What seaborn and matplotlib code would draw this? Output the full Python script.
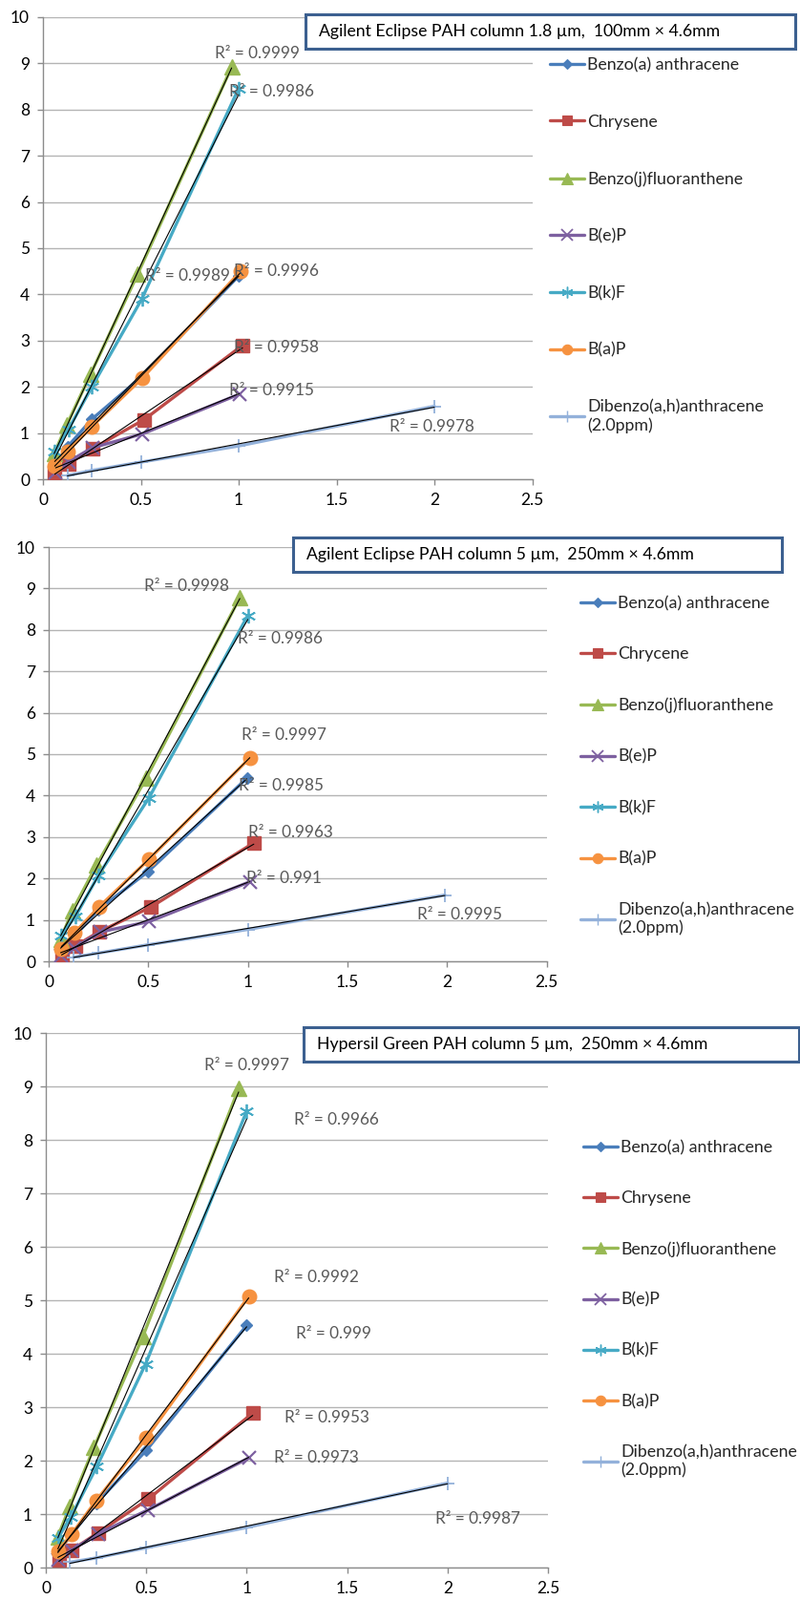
import numpy as np
import matplotlib
matplotlib.use("Agg")
import matplotlib.pyplot as plt
from matplotlib.patches import Rectangle
from matplotlib.lines import Line2D
import seaborn as sns

sns.set_theme(style="white")
plt.rcParams['font.family'] = ['Lato', 'DejaVu Sans']

# ---------------- data ----------------
compounds = ["Benzo(a) anthracene", "Chrysene", "Benzo(j)fluoranthene", "B(e)P",
             "B(k)F", "B(a)P", "Dibenzo(a,h)anthracene\n(2.0ppm)"]
compounds_p2 = ["Benzo(a) anthracene", "Chrycene", "Benzo(j)fluoranthene", "B(e)P",
                "B(k)F", "B(a)P", "Dibenzo(a,h)anthracene\n(2.0ppm)"]

titles = ["Agilent Eclipse PAH column 1.8 \u00b5m,  100mm \u00d7 4.6mm",
          "Agilent Eclipse PAH column 5 \u00b5m,  250mm \u00d7 4.6mm",
          "Hypersil Green PAH column 5 \u00b5m,  250mm \u00d7 4.6mm"]

xtick_values = [0, 0.5, 1, 1.5, 2, 2.5]
xtick_labels = ["0", "0.5", "1", "1.5", "2", "2.5"]
ytick_values = [0, 1, 2, 3, 4, 5, 6, 7, 8, 9, 10]

# Panel 1 (1.8 um, 100mm)
p1_x = [
    [0.06, 0.125, 0.25, 0.50, 1.00],
    [0.06, 0.13, 0.252, 0.517, 1.02],
    [0.057, 0.122, 0.244, 0.485, 0.964],
    [0.065, 0.13, 0.252, 0.507, 1.003],
    [0.06, 0.13, 0.25, 0.505, 1.0],
    [0.06, 0.125, 0.25, 0.508, 1.01],
    [0.125, 0.25, 0.5, 1.0, 2.0],
]
p1_y = [
    [0.30, 0.70, 1.30, 2.20, 4.40],
    [0.15, 0.33, 0.66, 1.29, 2.90],
    [0.55, 1.18, 2.28, 4.45, 8.92],
    [0.15, 0.38, 0.68, 0.98, 1.84],
    [0.59, 1.08, 2.00, 3.90, 8.46],
    [0.28, 0.60, 1.14, 2.19, 4.50],
    [0.08, 0.19, 0.37, 0.72, 1.58],
]
p1_r2 = ["0.9989", "0.9958", "0.9999", "0.9915", "0.9986", "0.9996", "0.9978"]
p1_r2_x = [0.52, 0.975, 0.88, 0.95, 0.95, 0.975, 1.77]
p1_r2_y = [4.40, 2.85, 9.22, 1.93, 8.38, 4.50, 1.14]

# Panel 2 (5 um, 250mm Agilent)
p2_x = [
    [0.06, 0.13, 0.25, 0.50, 0.995],
    [0.065, 0.133, 0.252, 0.513, 1.03],
    [0.06, 0.12, 0.24, 0.49, 0.96],
    [0.06, 0.13, 0.26, 0.505, 1.01],
    [0.06, 0.134, 0.25, 0.503, 1.0],
    [0.064, 0.128, 0.252, 0.503, 1.01],
    [0.125, 0.25, 0.5, 1.0, 1.99],
]
p2_y = [
    [0.30, 0.60, 1.25, 2.17, 4.42],
    [0.15, 0.37, 0.71, 1.31, 2.86],
    [0.54, 1.23, 2.32, 4.42, 8.78],
    [0.13, 0.33, 0.71, 0.96, 1.92],
    [0.62, 1.08, 2.08, 3.94, 8.35],
    [0.31, 0.68, 1.31, 2.46, 4.91],
    [0.10, 0.20, 0.40, 0.77, 1.60],
]
p2_r2 = ["0.9985", "0.9963", "0.9998", "0.991", "0.9986", "0.9997", "0.9995"]
p2_r2_x = [0.955, 1.0, 0.48, 0.99, 0.95, 0.97, 1.85]
p2_r2_y = [4.23, 3.10, 9.05, 2.00, 7.78, 5.45, 1.13]

# Panel 3 (Hypersil Green)
p3_x = [
    [0.06, 0.125, 0.25, 0.50, 1.00],
    [0.065, 0.13, 0.26, 0.51, 1.03],
    [0.06, 0.12, 0.24, 0.484, 0.96],
    [0.06, 0.13, 0.26, 0.51, 1.01],
    [0.06, 0.125, 0.254, 0.497, 1.0],
    [0.06, 0.13, 0.25, 0.50, 1.01],
    [0.12, 0.25, 0.5, 1.0, 2.0],
]
p3_y = [
    [0.30, 0.60, 1.20, 2.19, 4.53],
    [0.15, 0.33, 0.65, 1.28, 2.89],
    [0.58, 1.15, 2.25, 4.33, 8.96],
    [0.15, 0.33, 0.63, 1.08, 2.05],
    [0.55, 0.95, 1.89, 3.81, 8.54],
    [0.30, 0.63, 1.25, 2.42, 5.07],
    [0.10, 0.18, 0.37, 0.75, 1.58],
]
p3_r2 = ["0.999", "0.9953", "0.9997", "0.9973", "0.9966", "0.9992", "0.9987"]
p3_r2_x = [1.243, 1.19, 0.79, 1.135, 1.235, 1.135, 1.94]
p3_r2_y = [4.38, 2.80, 9.39, 2.05, 8.38, 5.42, 0.91]

# ---------------- styles ----------------
colors = ["#4A7EBB", "#BE4B48", "#98B954", "#7D60A0", "#46AAC5", "#F69240", "#93B1DA"]
markers = ["D", "s", "^", "x", (6, 2, 0), "o", "+"]
msizes = [6.5, 10, 11, 10.5, 11, 10.5, 10]
mews = [1, 1, 1, 1.6, 1.3, 1, 1.3]
leg_msizes = [5.5, 7.5, 8, 8, 8.5, 7.5, 8]

W, H = 838, 1676
# axes frame in pixels: (x0, x2.5, y10, y0)
frames = [(45, 557.5, 18, 502), (51, 572.5, 573, 1007), (48, 574, 1082, 1642)]
title_boxes = [(320, 833, 15, 51), (307, 819, 563, 599), (318, 837, 1076, 1112)]
legend_pos = [(576, 60, 2.45), (608, 624, 2.1), (611, 1194, 2.08)]

panels = [
    (compounds, p1_x, p1_y, p1_r2, p1_r2_x, p1_r2_y),
    (compounds_p2, p2_x, p2_y, p2_r2, p2_r2_x, p2_r2_y),
    (compounds, p3_x, p3_y, p3_r2, p3_r2_x, p3_r2_y),
]

fig = plt.figure(figsize=(W / 100, H / 100), dpi=100)
fig.patch.set_facecolor("white")

spine_col = "#8C8C8C"
grid_col = "#B4B4B4"
FS_TICK = 12.5
FS_LEG = 12.8
FS_R2 = 12.3
FS_TITLE = 12.7

for pi, (names, xs_all, ys_all, r2s, r2x, r2y) in enumerate(panels):
    x0, x1, yt, yb = frames[pi]
    ax = fig.add_axes([x0 / W, 1 - yb / H, (x1 - x0) / W, (yb - yt) / H])
    ax.set_facecolor("white")
    handles = []
    for i, name in enumerate(names):
        sns.lineplot(x=xs_all[i], y=ys_all[i], ax=ax, color=colors[i], marker=markers[i],
                     markersize=msizes[i], markeredgecolor=colors[i], markeredgewidth=mews[i],
                     linewidth=2.4, sort=False, estimator=None, zorder=3)
        handles.append(Line2D([], [], color=colors[i], marker=markers[i], markersize=leg_msizes[i],
                              markeredgecolor=colors[i], markeredgewidth=mews[i] * 0.8,
                              linewidth=2.4, label=name))
    for i in range(len(names)):
        sns.regplot(x=np.array(xs_all[i]), y=np.array(ys_all[i]), ax=ax, scatter=False, ci=None,
                    truncate=True, line_kws=dict(color="black", lw=0.8, zorder=4))
    for i in range(len(names)):
        ax.text(r2x[i], r2y[i], "R\u00b2 = " + r2s[i], ha="left", va="center",
                fontsize=FS_R2, color="#595959", zorder=6)

    ax.set_xlim(0, 2.5)
    ax.set_ylim(0, 10)
    ax.set_xticks(xtick_values)
    ax.set_xticklabels(xtick_labels)
    ax.set_yticks(ytick_values)
    ax.set_xlabel("")
    ax.set_ylabel("")
    ax.yaxis.grid(True, color=grid_col, lw=1.0, zorder=0)
    ax.xaxis.grid(False)
    ax.set_axisbelow(True)
    for s in ["top", "right"]:
        ax.spines[s].set_visible(False)
    for s in ["left", "bottom"]:
        ax.spines[s].set_color(spine_col)
        ax.spines[s].set_linewidth(1.0)
    ax.tick_params(axis="both", which="major", direction="out", length=4, width=1,
                   color=spine_col, labelsize=FS_TICK, labelcolor="black")
    ax.tick_params(axis="y", pad=6)
    ax.tick_params(axis="x", pad=6)
    ax.tick_params(left=True, bottom=True)
    if ax.get_legend() is not None:
        ax.get_legend().remove()

    lx, ly, lsp = legend_pos[pi]
    fig.legend(handles=handles, loc="upper left", bbox_to_anchor=(lx / W, 1 - ly / H),
               bbox_transform=fig.transFigure, frameon=False, fontsize=FS_LEG,
               handlelength=2.0, handletextpad=0.22, labelspacing=lsp,
               borderpad=0, borderaxespad=0)

    bx0, bx1, by0, by1 = title_boxes[pi]
    fig.add_artist(Rectangle((bx0 / W, 1 - by1 / H), (bx1 - bx0) / W, (by1 - by0) / H,
                             transform=fig.transFigure, facecolor="white",
                             edgecolor="#3C6090", lw=2.2, zorder=10))
    fig.text((bx0 + 14) / W, 1 - ((by0 + by1) / 2) / H, titles[pi], ha="left", va="center",
             fontsize=FS_TITLE, color="black", zorder=11)

fig.savefig("out.png", dpi=100, facecolor="white")
